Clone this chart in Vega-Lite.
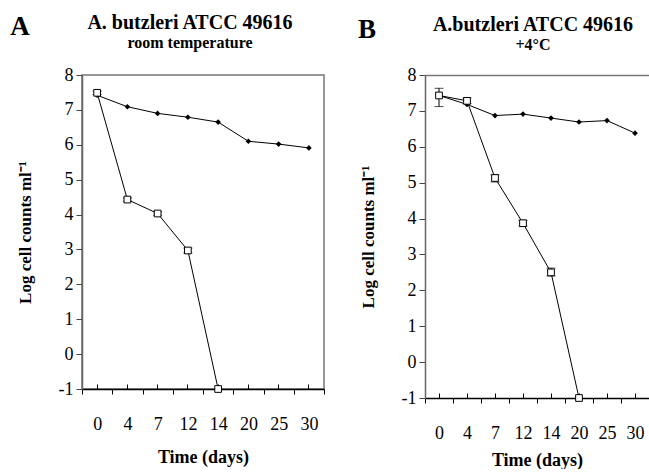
{
  "$schema": "https://vega.github.io/schema/vega-lite/v6.json",
  "background": "white",
  "padding": {"left": 10, "top": 12, "right": 0, "bottom": 0},
  "spacing": 32,
  "config": {
    "font": "Times New Roman",
    "view": {"stroke": "#777", "strokeWidth": 1.5},
    "title": {"font": "Times New Roman", "color": "black", "fontWeight": "bold", "subtitleFont": "Times New Roman", "subtitleColor": "black", "subtitleFontWeight": "bold"},
    "axis": {"labelFont": "Times New Roman", "titleFont": "Times New Roman", "labelFontSize": 18, "titleFontSize": 18, "labelColor": "black", "titleColor": "black", "grid": false, "tickColor": "black", "titleFontWeight": "bold"},
    "axisY": {"domainColor": "#666", "domainWidth": 1.5, "tickColor": "#444", "tickSize": 6, "labelPadding": 3, "titlePadding": 24, "titleFontSize": 17}
  },
  "datasets": {
    "a": [
      {"day": 0, "s": "d", "v": 7.42},
      {"day": 4, "s": "d", "v": 7.09},
      {"day": 7, "s": "d", "v": 6.90},
      {"day": 12, "s": "d", "v": 6.79},
      {"day": 14, "s": "d", "v": 6.65},
      {"day": 20, "s": "d", "v": 6.10},
      {"day": 25, "s": "d", "v": 6.02},
      {"day": 30, "s": "d", "v": 5.91},
      {"day": 0, "s": "q", "v": 7.49, "lo": 7.44, "hi": 7.54},
      {"day": 4, "s": "q", "v": 4.43, "lo": 4.38, "hi": 4.48},
      {"day": 7, "s": "q", "v": 4.03, "lo": 3.98, "hi": 4.08},
      {"day": 12, "s": "q", "v": 2.97, "lo": 2.90, "hi": 3.04},
      {"day": 14, "s": "q", "v": -1.0}
    ],
    "b": [
      {"day": 0, "s": "d", "v": 7.43},
      {"day": 4, "s": "d", "v": 7.18},
      {"day": 7, "s": "d", "v": 6.87},
      {"day": 12, "s": "d", "v": 6.91},
      {"day": 14, "s": "d", "v": 6.80},
      {"day": 20, "s": "d", "v": 6.69},
      {"day": 25, "s": "d", "v": 6.73},
      {"day": 30, "s": "d", "v": 6.38},
      {"day": 0, "s": "q", "v": 7.43, "lo": 7.12, "hi": 7.63},
      {"day": 4, "s": "q", "v": 7.28, "lo": 7.20, "hi": 7.36},
      {"day": 7, "s": "q", "v": 5.13, "lo": 5.02, "hi": 5.22},
      {"day": 12, "s": "q", "v": 3.87, "lo": 3.79, "hi": 3.95},
      {"day": 14, "s": "q", "v": 2.50, "lo": 2.40, "hi": 2.62},
      {"day": 20, "s": "q", "v": -1.0}
    ]
  },
  "hconcat": [
    {
      "title": {"text": "A", "anchor": "start", "fontSize": 27, "dx": -5, "dy": 29, "offset": 0},
      "vconcat": [
        {
          "width": 242,
          "height": 314,
          "title": {"text": "A. butzleri ATCC 49616", "subtitle": "room temperature", "fontSize": 20, "subtitleFontSize": 16, "subtitlePadding": 2, "offset": 15, "dx": -13},
          "data": {"name": "a"},
          "resolve": {"axis": {"x": "independent"}},
          "layer": [
            {
              "transform": [{"filter": "isValid(datum.lo)"}],
              "mark": {"type": "errorbar", "ticks": {"size": 9, "color": "black", "thickness": 1}, "rule": {"color": "black", "strokeWidth": 1}},
              "encoding": {
                "x": {"field": "day", "type": "ordinal", "scale": {"type": "band", "paddingInner": 0, "paddingOuter": 0}, "axis": null},
                "y": {"field": "lo", "type": "quantitative", "scale": {"domain": [-1, 8], "nice": false, "zero": false}, "title": "Log cell counts ml⁻¹", "axis": {"values": [-1, 0, 1, 2, 3, 4, 5, 6, 7, 8], "labelExpr": "'' + datum.value"}},
                "y2": {"field": "hi"}
              }
            },
            {
              "transform": [{"filter": "datum.s == 'd'"}],
              "mark": {"type": "line", "color": "black", "strokeWidth": 1, "point": {"shape": "diamond", "filled": true, "color": "black", "size": 32}},
              "encoding": {
                "x": {"field": "day", "type": "ordinal", "scale": {"type": "band", "paddingInner": 0, "paddingOuter": 0}, "axis": {"orient": "bottom", "title": "Time (days)", "tickBand": "extent", "tickSize": 5, "labelAngle": 0, "labelPadding": 21, "titlePadding": 15, "domainColor": "black", "domainWidth": 1.5}},
                "y": {"field": "v", "type": "quantitative", "scale": {"domain": [-1, 8], "nice": false, "zero": false}, "title": "Log cell counts ml⁻¹", "axis": {"values": [-1, 0, 1, 2, 3, 4, 5, 6, 7, 8], "labelExpr": "'' + datum.value"}}
              }
            },
            {
              "transform": [{"filter": "datum.s == 'q'"}],
              "mark": {"type": "line", "color": "black", "strokeWidth": 1, "point": {"shape": "square", "filled": true, "fill": "white", "stroke": "black", "strokeWidth": 1, "size": 45}},
              "encoding": {
                "x": {"field": "day", "type": "ordinal", "scale": {"type": "band", "paddingInner": 0, "paddingOuter": 0}, "axis": {"orient": "bottom", "title": null, "domain": false, "labels": false, "ticks": true, "tickSize": -5}},
                "y": {"field": "v", "type": "quantitative", "scale": {"domain": [-1, 8], "nice": false, "zero": false}, "title": "Log cell counts ml⁻¹", "axis": {"values": [-1, 0, 1, 2, 3, 4, 5, 6, 7, 8], "labelExpr": "'' + datum.value"}}
              }
            }
          ]
        }
      ]
    },
    {
      "title": {"text": "B", "anchor": "start", "fontSize": 27, "dx": -1, "dy": 29, "offset": 0},
      "vconcat": [
        {
          "width": 224,
          "height": 323,
          "view": {"stroke": null},
          "title": {"text": "A.butzleri ATCC 49616", "subtitle": "+4°C", "fontSize": 20, "subtitleFontSize": 16, "subtitlePadding": 2, "offset": 13, "dx": -4},
          "data": {"name": "b"},
          "resolve": {"axis": {"x": "independent"}},
          "layer": [
            {
              "transform": [{"filter": "isValid(datum.lo)"}],
              "mark": {"type": "errorbar", "ticks": {"size": 9, "color": "black", "thickness": 1}, "rule": {"color": "black", "strokeWidth": 1}},
              "encoding": {
                "x": {"field": "day", "type": "ordinal", "scale": {"type": "band", "paddingInner": 0, "paddingOuter": 0}, "axis": {"orient": "top", "title": null, "domain": true, "domainColor": "#777", "domainWidth": 1.5, "labels": false, "ticks": false}},
                "y": {"field": "lo", "type": "quantitative", "scale": {"domain": [-1, 8], "nice": false, "zero": false}, "title": "Log cell counts ml⁻¹", "axis": {"values": [-1, 0, 1, 2, 3, 4, 5, 6, 7, 8], "labelExpr": "'' + datum.value"}},
                "y2": {"field": "hi"}
              }
            },
            {
              "transform": [{"filter": "datum.s == 'd'"}],
              "mark": {"type": "line", "color": "black", "strokeWidth": 1, "point": {"shape": "diamond", "filled": true, "color": "black", "size": 32}},
              "encoding": {
                "x": {"field": "day", "type": "ordinal", "scale": {"type": "band", "paddingInner": 0, "paddingOuter": 0}, "axis": {"orient": "bottom", "title": "Time (days)", "tickBand": "extent", "tickSize": 5, "labelAngle": 0, "labelPadding": 21, "titlePadding": 9, "domainColor": "black", "domainWidth": 1.5}},
                "y": {"field": "v", "type": "quantitative", "scale": {"domain": [-1, 8], "nice": false, "zero": false}, "title": "Log cell counts ml⁻¹", "axis": {"values": [-1, 0, 1, 2, 3, 4, 5, 6, 7, 8], "labelExpr": "'' + datum.value"}}
              }
            },
            {
              "transform": [{"filter": "datum.s == 'q'"}],
              "mark": {"type": "line", "color": "black", "strokeWidth": 1, "point": {"shape": "square", "filled": true, "fill": "white", "stroke": "black", "strokeWidth": 1, "size": 45}},
              "encoding": {
                "x": {"field": "day", "type": "ordinal", "scale": {"type": "band", "paddingInner": 0, "paddingOuter": 0}, "axis": {"orient": "bottom", "title": null, "domain": false, "labels": false, "ticks": true, "tickSize": -5}},
                "y": {"field": "v", "type": "quantitative", "scale": {"domain": [-1, 8], "nice": false, "zero": false}, "title": "Log cell counts ml⁻¹", "axis": {"values": [-1, 0, 1, 2, 3, 4, 5, 6, 7, 8], "labelExpr": "'' + datum.value"}}
              }
            }
          ]
        }
      ]
    }
  ]
}
